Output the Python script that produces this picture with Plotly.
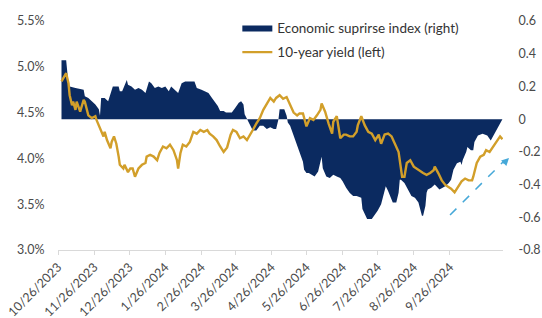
import plotly.graph_objects as go

# ---- data ----
yield_dates = [
    "2023-10-29", "2023-11-02", "2023-11-04", "2023-11-05", "2023-11-07", "2023-11-08",
    "2023-11-10", "2023-11-11", "2023-11-14", "2023-11-17", "2023-11-18", "2023-11-21",
    "2023-11-24", "2023-11-27", "2023-11-28", "2023-12-01", "2023-12-04", "2023-12-05",
    "2023-12-07", "2023-12-10", "2023-12-11", "2023-12-13", "2023-12-15", "2023-12-17",
    "2023-12-18", "2023-12-21", "2023-12-22", "2023-12-25", "2023-12-27", "2023-12-29",
    "2023-12-31", "2024-01-03", "2024-01-06", "2024-01-09", "2024-01-10", "2024-01-13",
    "2024-01-16", "2024-01-19", "2024-01-21", "2024-01-24", "2024-01-27", "2024-01-30",
    "2024-02-02", "2024-02-05", "2024-02-06", "2024-02-08", "2024-02-10", "2024-02-13",
    "2024-02-16", "2024-02-19", "2024-02-22", "2024-02-25", "2024-02-28", "2024-03-02",
    "2024-03-04", "2024-03-07", "2024-03-10", "2024-03-13", "2024-03-16", "2024-03-19",
    "2024-03-22", "2024-03-24", "2024-03-27", "2024-03-30", "2024-04-02", "2024-04-05",
    "2024-04-08", "2024-04-10", "2024-04-13", "2024-04-16", "2024-04-19", "2024-04-22",
    "2024-04-25", "2024-04-28", "2024-04-30", "2024-05-03", "2024-05-06", "2024-05-09",
    "2024-05-12", "2024-05-15", "2024-05-18", "2024-05-20", "2024-05-23", "2024-05-26",
    "2024-05-29", "2024-06-01", "2024-06-04", "2024-06-07", "2024-06-08", "2024-06-11",
    "2024-06-14", "2024-06-17", "2024-06-18", "2024-06-21", "2024-06-24", "2024-06-27",
    "2024-06-29", "2024-07-02", "2024-07-05", "2024-07-08", "2024-07-09", "2024-07-12",
    "2024-07-15", "2024-07-18", "2024-07-21", "2024-07-24", "2024-07-27", "2024-07-29",
    "2024-08-01", "2024-08-04", "2024-08-07", "2024-08-10", "2024-08-13", "2024-08-16",
    "2024-08-18", "2024-08-20", "2024-08-23", "2024-08-26", "2024-08-28", "2024-08-31",
    "2024-09-03", "2024-09-06", "2024-09-09", "2024-09-12", "2024-09-13", "2024-09-16",
    "2024-09-19", "2024-09-22", "2024-09-25", "2024-09-27", "2024-09-30", "2024-10-03",
    "2024-10-06", "2024-10-09", "2024-10-12", "2024-10-15", "2024-10-16", "2024-10-19",
    "2024-10-22", "2024-10-25", "2024-10-27", "2024-10-30", "2024-11-02", "2024-11-05",
    "2024-11-08", "2024-11-10",
]
yield_values = [
    4.84, 4.93, 4.82, 4.69, 4.58, 4.62,
    4.53, 4.62, 4.51, 4.64, 4.62, 4.47,
    4.44, 4.46, 4.42, 4.33, 4.24, 4.29,
    4.20, 4.11, 4.18, 4.24, 4.16, 4.02,
    3.93, 3.89, 3.93, 3.85, 3.89, 3.89,
    3.80, 3.89, 3.93, 3.95, 4.02, 4.04,
    4.02, 3.98, 4.06, 4.13, 4.11, 4.15,
    4.09, 3.98, 3.89, 4.06, 4.15, 4.13,
    4.18, 4.29, 4.27, 4.31, 4.29, 4.31,
    4.27, 4.24, 4.20, 4.13, 4.07, 4.12,
    4.26, 4.31, 4.29, 4.22, 4.24, 4.20,
    4.26, 4.31, 4.38, 4.44, 4.53, 4.60,
    4.66, 4.62, 4.66, 4.69, 4.65, 4.67,
    4.59, 4.50, 4.47, 4.49, 4.49, 4.35,
    4.44, 4.42, 4.47, 4.53, 4.60, 4.51,
    4.38, 4.27, 4.40, 4.46, 4.22, 4.26,
    4.26, 4.24, 4.24, 4.29, 4.36, 4.46,
    4.36, 4.29, 4.27, 4.20, 4.26, 4.16,
    4.26, 4.27, 4.24, 4.15, 4.07, 3.80,
    3.80, 3.95, 3.98, 3.91, 3.89, 3.87,
    3.84, 3.82, 3.84, 3.87, 3.91, 3.84,
    3.76, 3.71, 3.69, 3.67, 3.63, 3.69,
    3.75, 3.78, 3.76, 3.76, 3.80, 3.95,
    4.02, 4.04, 4.09, 4.07, 4.13, 4.18,
    4.24, 4.21,
]

surprise_dates = [
    "2023-10-29", "2023-11-02", "2023-11-04", "2023-11-05", "2023-11-10", "2023-11-17",
    "2023-11-18", "2023-11-21", "2023-11-24", "2023-11-27", "2023-11-30", "2023-12-01",
    "2023-12-02", "2023-12-05", "2023-12-08", "2023-12-10", "2023-12-12", "2023-12-17",
    "2023-12-18", "2023-12-20", "2023-12-22", "2023-12-24", "2023-12-25", "2023-12-28",
    "2023-12-31", "2024-01-03", "2024-01-06", "2024-01-09", "2024-01-12", "2024-01-14",
    "2024-01-17", "2024-01-20", "2024-01-23", "2024-01-26", "2024-01-29", "2024-01-31",
    "2024-02-03", "2024-02-06", "2024-02-09", "2024-02-12", "2024-02-20", "2024-02-22",
    "2024-02-26", "2024-02-29", "2024-03-03", "2024-03-06", "2024-03-09", "2024-03-11",
    "2024-03-13", "2024-03-16", "2024-03-18", "2024-03-23", "2024-03-26", "2024-03-29",
    "2024-03-31", "2024-04-02", "2024-04-03", "2024-04-05", "2024-04-08", "2024-04-10",
    "2024-04-13", "2024-04-16", "2024-04-19", "2024-04-22", "2024-04-25", "2024-04-28",
    "2024-04-30", "2024-05-02", "2024-05-03", "2024-05-07", "2024-05-09", "2024-05-10",
    "2024-05-12", "2024-05-14", "2024-05-16", "2024-05-19", "2024-05-20", "2024-05-22",
    "2024-05-23", "2024-05-24", "2024-05-26", "2024-05-28", "2024-05-30", "2024-06-02",
    "2024-06-05", "2024-06-08", "2024-06-09", "2024-06-12", "2024-06-15", "2024-06-18",
    "2024-06-21", "2024-06-24", "2024-06-26", "2024-06-29", "2024-07-02", "2024-07-05",
    "2024-07-08", "2024-07-12", "2024-07-13", "2024-07-17", "2024-07-21", "2024-07-24",
    "2024-07-26", "2024-07-29", "2024-07-31", "2024-08-01", "2024-08-02", "2024-08-04",
    "2024-08-06", "2024-08-08", "2024-08-11", "2024-08-13", "2024-08-14", "2024-08-15",
    "2024-08-18", "2024-08-21", "2024-08-24", "2024-08-27", "2024-08-30", "2024-09-02",
    "2024-09-03", "2024-09-05", "2024-09-06", "2024-09-07", "2024-09-10", "2024-09-13",
    "2024-09-17", "2024-09-22", "2024-09-25", "2024-09-27", "2024-09-29", "2024-10-02",
    "2024-10-05", "2024-10-06", "2024-10-07", "2024-10-10", "2024-10-11", "2024-10-14",
    "2024-10-16", "2024-10-17", "2024-10-20", "2024-10-24", "2024-10-28", "2024-10-31",
    "2024-11-03", "2024-11-06", "2024-11-08", "2024-11-10",
]
surprise_values = [
    0.36, 0.36, 0.21, 0.20, 0.19, 0.18,
    0.14, 0.13, 0.11, 0.09, 0.06, 0.02,
    0.13, 0.13, 0.11, 0.15, 0.20, 0.20,
    0.17, 0.17, 0.20, 0.24, 0.21, 0.20,
    0.18, 0.19, 0.18, 0.16, 0.23, 0.22,
    0.19, 0.20, 0.19, 0.20, 0.17, 0.20,
    0.18, 0.16, 0.22, 0.23, 0.23, 0.19,
    0.18, 0.17, 0.16, 0.13, 0.10, 0.08,
    0.05, 0.05, 0.04, 0.04, 0.07, 0.10,
    0.11, 0.09, 0.03, 0.00, -0.05, -0.07,
    -0.07, -0.04, -0.04, -0.06, -0.05, -0.06,
    -0.06, 0.00, 0.06, 0.06, 0.02, -0.02,
    -0.04, -0.08, -0.12, -0.17, -0.20, -0.23,
    -0.26, -0.31, -0.33, -0.33, -0.34, -0.35,
    -0.32, -0.23, -0.30, -0.35, -0.36, -0.34,
    -0.35, -0.36, -0.38, -0.42, -0.45, -0.47,
    -0.47, -0.48, -0.55, -0.61, -0.61, -0.58,
    -0.56, -0.52, -0.46, -0.43, -0.41, -0.44,
    -0.47, -0.51, -0.51, -0.45, -0.37, -0.37,
    -0.39, -0.43, -0.47, -0.48, -0.51, -0.59,
    -0.59, -0.53, -0.45, -0.43, -0.42, -0.40,
    -0.43, -0.41, -0.39, -0.37, -0.31, -0.27,
    -0.26, -0.28, -0.25, -0.20, -0.17, -0.19,
    -0.19, -0.14, -0.10, -0.09, -0.10, -0.13,
    -0.09, -0.05, -0.03, 0.00,
]

x_tick_dates = [
    "2023-10-26", "2023-11-26", "2023-12-26", "2024-01-26", "2024-02-26", "2024-03-26",
    "2024-04-26", "2024-05-26", "2024-06-26", "2024-07-26", "2024-08-26", "2024-09-26",
]
x_tick_labels = [
    "10/26/2023", "11/26/2023", "12/26/2023", "1/26/2024", "2/26/2024", "3/26/2024",
    "4/26/2024", "5/26/2024", "6/26/2024", "7/26/2024", "8/26/2024", "9/26/2024",
]
left_ticks = [3.0, 3.5, 4.0, 4.5, 5.0, 5.5]
left_labels = ["3.0%", "3.5%", "4.0%", "4.5%", "5.0%", "5.5%"]
right_ticks = [-0.8, -0.6, -0.4, -0.2, 0, 0.2, 0.4, 0.6]
right_labels = ["-0.8", "-0.6", "-0.4", "-0.2", "0", "0.2", "0.4", "0.6"]

NAVY = "#0b2a60"
GOLD = "#d29f2a"
ARROW = "#45a8d8"
TXT = "#4a4a4a"
FONT = "Lato"

fig = go.Figure()
fig.add_trace(go.Scatter(
    x=surprise_dates, y=surprise_values, name="Economic suprirse index (right)",
    mode="lines", line=dict(width=0, color=NAVY), fill="tozeroy", fillcolor=NAVY,
    yaxis="y", legendgroup="a",
))
fig.add_trace(go.Scatter(
    x=yield_dates, y=yield_values, name="10-year yield (left)",
    mode="lines", line=dict(width=2.4, color=GOLD),
    yaxis="y2", legendgroup="b",
))

fig.update_layout(
    width=542, height=318,
    margin=dict(l=58, r=39, t=21, b=68, autoexpand=False),
    paper_bgcolor="white", plot_bgcolor="white",
    font=dict(family=FONT, size=12, color=TXT),
    showlegend=True,
    legend=dict(x=0.403, y=1.038, xanchor="left", yanchor="top",
                bgcolor="rgba(0,0,0,0)", font=dict(size=13.5, color="#333333"),
                tracegroupgap=4, itemwidth=30),
    xaxis=dict(
        type="date", range=["2023-10-26", "2024-11-10 12:00"], automargin=False,
        tickmode="array", tickvals=x_tick_dates, ticktext=x_tick_labels,
        tickangle=-45, showgrid=False, showline=True, linecolor="#d9d9d9", linewidth=1,
        ticks="outside", ticklen=4, tickcolor="#d9d9d9",
        tickfont=dict(size=12.5, color=TXT), zeroline=False,
    ),
    yaxis=dict(
        side="right", range=[-0.8, 0.6], tickmode="array", automargin=False,
        tickvals=right_ticks, ticktext=right_labels,
        showgrid=False, zeroline=False, showline=False,
        ticks="outside", ticklen=12, tickcolor="rgba(0,0,0,0)",
        tickfont=dict(size=12.5, color=TXT),
    ),
    yaxis2=dict(
        side="left", overlaying="y", range=[3.0, 5.5], tickmode="array", automargin=False,
        tickvals=left_ticks, ticktext=left_labels,
        showgrid=False, zeroline=False, showline=False,
        ticks="outside", ticklen=10, tickcolor="rgba(0,0,0,0)",
        tickfont=dict(size=12.5, color=TXT),
    ),
)

# dashed trend arrow
fig.add_shape(type="line", xref="paper", yref="paper",
              x0=0.881, y0=0.153, x1=1.003, y1=0.39,
              line=dict(color=ARROW, width=1.5, dash="dash"))
fig.add_annotation(xref="paper", yref="paper", x=1.0135, y=0.402,
                   ax=-7, ay=7, axref="pixel", ayref="pixel", text="",
                   showarrow=True, arrowhead=2, arrowsize=1, arrowwidth=1.5,
                   arrowcolor=ARROW, standoff=0)

fig.write_html("out.html", config={"displayModeBar": False},
               post_script="document.body.style.margin='0';document.body.style.padding='0';")
